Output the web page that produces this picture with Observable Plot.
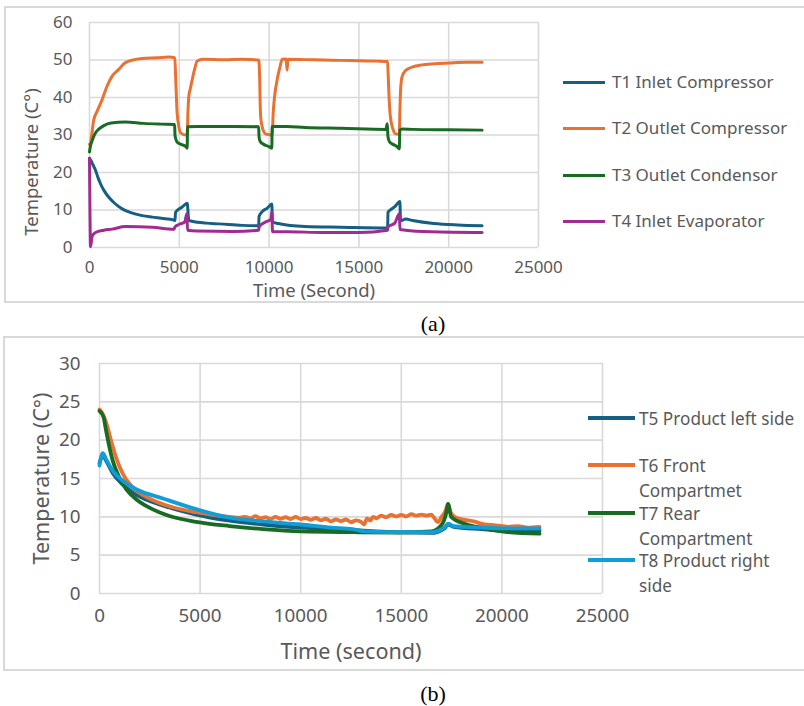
<!DOCTYPE html>
<html><head><meta charset="utf-8">
<script src="https://cdn.jsdelivr.net/npm/d3@7"></script>
<script src="https://cdn.jsdelivr.net/npm/@observablehq/plot@0.6"></script>
<style>
body{margin:0;background:#fff;}
#root{position:relative;width:804px;height:706px;overflow:hidden;font-family:"Noto Sans",sans-serif;color:#595959;}
.panel{position:absolute;border:2px solid #d9d9d9;border-right:none;box-sizing:border-box;}
.plotbox{position:absolute;left:0;}
.leg{position:absolute;white-space:nowrap;}
.leg .sw{position:absolute;}
.leg .tx{position:absolute;}
.cap{position:absolute;font-family:"Liberation Serif","Times New Roman",serif;font-size:22px;color:#000;transform:translate(-50%,-50%);}
</style></head><body><div id="root"></div>
<script>
// ---------------- Panel (a) data ----------------
const xTicks = [0, 5000, 10000, 15000, 20000, 25000];
const yTicksA = [0, 10, 20, 30, 40, 50, 60];
const yTicksB = [0, 5, 10, 15, 20, 25, 30];
const namesA = ["T1 Inlet Compressor", "T2 Outlet Compressor", "T3 Outlet Condensor", "T4 Inlet Evaporator"];
const colorsA = ["#156082", "#E97132", "#196B24", "#A02B93"];
const xTitleA = "Time (Second)";
const yTitleA = "Temperature (C°)";
const xTitleB = "Time (second)";
const yTitleB = "Temperature (C°)";

const t1Time = [0, 100, 200, 334, 470, 612, 820, 1075, 1400, 1820, 2300, 2934, 3500, 4000, 4695, 4760, 4790, 5160, 5440, 5530, 5700, 6500, 7250, 8500, 9420, 9440, 9600, 9900, 10150, 10190, 10500, 12000, 14000, 16600, 16620, 16800, 17000, 17280, 17320, 17600, 18000, 19170, 20500, 21860];
const t1Temp = [23.8, 23.0, 22.0, 20.6, 18.7, 17.0, 15.1, 13.4, 11.8, 10.3, 9.3, 8.5, 8.1, 7.8, 7.35, 7.2, 9.4, 10.8, 11.8, 7.2, 7.0, 6.5, 6.3, 5.9, 5.8, 8.3, 9.5, 10.5, 11.6, 6.8, 6.4, 5.6, 5.4, 5.2, 9.4, 10.2, 10.9, 12.3, 7.1, 7.6, 7.2, 6.4, 6.0, 5.8];

const t2Time = [0, 50, 235, 420, 700, 975, 1260, 1630, 2000, 2930, 3800, 4420, 4750, 4800, 4880, 4950, 5070, 5350, 5440, 5480, 5530, 5620, 5720, 5850, 5995, 6300, 7500, 8500, 9426, 9470, 9520, 9600, 9800, 10000, 10170, 10230, 10300, 10450, 10600, 10730, 10950, 11000, 11050, 12000, 13000, 14000, 15000, 16000, 16600, 16630, 16680, 16750, 16900, 17050, 17250, 17280, 17320, 17400, 17600, 17900, 18500, 19200, 20000, 21000, 21860];
const t2Temp = [27.5, 27.8, 34.0, 36.3, 39.4, 43.0, 45.7, 47.5, 49.3, 50.4, 50.6, 50.8, 50.6, 45.0, 35.8, 33.0, 30.6, 30.0, 30.1, 36.0, 40.3, 42.5, 44.8, 47.5, 49.7, 50.2, 50.1, 50.2, 50.0, 46.0, 35.8, 32.5, 30.3, 30.1, 30.0, 36.0, 40.0, 44.8, 48.0, 50.2, 50.3, 47.3, 50.2, 50.1, 50.0, 49.9, 49.8, 49.7, 49.6, 46.0, 40.0, 35.0, 31.5, 30.3, 30.2, 36.0, 42.0, 45.5, 47.2, 48.0, 48.7, 49.0, 49.2, 49.4, 49.4];

const t3Time = [0, 50, 150, 300, 500, 800, 1200, 2000, 3000, 4000, 4740, 4760, 4800, 4900, 5100, 5350, 5440, 5460, 6000, 8000, 9420, 9440, 9500, 9700, 9950, 10150, 10170, 11000, 12000, 14000, 16500, 16580, 16620, 16700, 16900, 17100, 17250, 17280, 17400, 18000, 20000, 21860];
const t3Temp = [25.5, 27.0, 28.5, 30.3, 31.5, 32.5, 33.2, 33.5, 33.1, 32.9, 32.8, 30.0, 29.0, 28.0, 27.5, 27.0, 26.5, 32.2, 32.3, 32.3, 32.2, 29.5, 28.3, 27.5, 27.0, 26.5, 32.3, 32.3, 32.0, 31.8, 31.5, 33.0, 29.5, 28.2, 27.5, 27.0, 26.3, 31.2, 31.6, 31.5, 31.4, 31.3];

const t4Time = [0, 60, 150, 334, 800, 1260, 2000, 3500, 4700, 4760, 5000, 5300, 5420, 5460, 6000, 8000, 9420, 9440, 9800, 10100, 10150, 10190, 11000, 13000, 15000, 16600, 16620, 17000, 17250, 17290, 17600, 19000, 21860];
const t4Temp = [23.8, 0.2, 3.0, 4.0, 4.6, 4.9, 5.6, 5.4, 4.9, 5.5, 6.2, 6.8, 9.0, 4.6, 4.4, 4.3, 4.6, 5.5, 6.8, 7.5, 9.5, 4.2, 4.2, 4.0, 4.0, 4.6, 5.5, 6.5, 9.0, 4.8, 4.6, 4.2, 4.0];

// ---------------- Panel (b) data ----------------
const namesB = ["T5 Product left side", "T6 Front Compartmet", "T7 Rear Compartment", "T8 Product right side"];
const legendLinesB = [["T5 Product left side"], ["T6 Front", "Compartmet"], ["T7 Rear", "Compartment"], ["T8 Product right", "side"]];
const colorsB = ["#156082", "#E97132", "#196B24", "#0F9ED5"];

const t5Time = [0, 165, 330, 660, 1160, 1820, 3150, 4800, 6460, 8115, 10000, 12580, 14500, 16490, 17150, 17320, 17600, 18970, 20130, 21870];
const t5Temp = [17.0, 18.0, 17.3, 15.7, 14.2, 12.9, 11.5, 10.3, 9.5, 9.0, 8.6, 8.3, 8.0, 7.9, 8.5, 9.0, 8.7, 8.4, 8.2, 8.2];

const t6Time = [0, 150, 330, 580, 830, 1160, 1656, 2320, 3150, 4800, 6460, 7000, 7250, 7500, 7750, 8000, 8250, 8500, 8750, 9000, 9250, 9500, 9750, 10000, 10250, 10500, 10750, 11000, 11250, 11500, 11750, 12000, 12250, 12500, 12750, 13000, 13150, 13300, 13450, 13600, 13750, 14000, 14250, 14500, 14750, 15000, 15250, 15500, 15750, 16000, 16250, 16490, 16650, 16820, 17000, 17200, 17320, 17450, 17650, 18150, 18600, 19140, 19700, 20300, 20800, 21300, 21870];
const t6Temp = [24.0, 23.5, 22.3, 19.9, 17.7, 15.6, 13.8, 12.6, 11.65, 10.6, 10.0, 9.9, 10.0, 9.8, 10.1, 9.8, 9.95, 9.7, 10.0, 9.75, 9.95, 9.7, 10.0, 9.7, 9.85, 9.6, 9.85, 9.55, 9.75, 9.4, 9.65, 9.45, 9.65, 9.3, 9.55, 9.35, 9.0, 9.8, 9.5, 10.0, 9.8, 10.15, 9.95, 10.25, 10.05, 10.25, 10.05, 10.35, 10.15, 10.3, 10.15, 10.3, 9.8, 9.3, 10.0, 10.8, 11.7, 10.6, 10.0, 9.6, 9.4, 9.0, 8.9, 8.7, 8.8, 8.6, 8.7];

const t7Time = [0, 200, 330, 500, 660, 990, 1325, 1820, 2480, 3480, 4800, 6460, 8115, 10000, 12580, 14830, 16490, 16990, 17240, 17320, 17480, 18150, 19140, 20300, 21870];
const t7Temp = [23.8, 23.0, 21.2, 19.0, 17.3, 15.1, 13.6, 12.3, 11.2, 10.1, 9.35, 8.8, 8.4, 8.1, 8.0, 7.95, 8.1, 8.9, 10.6, 11.7, 10.0, 9.1, 8.5, 8.0, 7.8];

const t8Time = [0, 165, 330, 660, 1160, 1820, 3150, 4800, 6460, 8115, 10000, 11520, 12580, 13180, 14500, 16490, 17150, 17320, 17600, 18970, 20130, 21870];
const t8Temp = [16.7, 18.3, 17.5, 16.0, 14.7, 13.6, 12.4, 11.0, 9.9, 9.4, 9.0, 8.6, 8.4, 8.1, 8.0, 8.0, 8.6, 9.1, 8.8, 8.6, 8.5, 8.5];

// ---------------- build ----------------
const FONT = '"Noto Sans", sans-serif';
const GRID = "#d9d9d9";
const TEXT = "#595959";
const rows = (times, temps, name) => times.map((t, i) => ({t, v: temps[i], name}));
const seriesA = [rows(t1Time, t1Temp, namesA[0]), rows(t2Time, t2Temp, namesA[1]), rows(t3Time, t3Temp, namesA[2]), rows(t4Time, t4Temp, namesA[3])];
const seriesB = [rows(t5Time, t5Temp, namesB[0]), rows(t6Time, t6Temp, namesB[1]), rows(t7Time, t7Temp, namesB[2]), rows(t8Time, t8Temp, namesB[3])];
const fmt = d3.format("d");
const root = document.getElementById("root");

function makePanel(opts) {
  const {width, height, ml, mr, mt, mb, yDomain, yTicks, series, colors, fs, tfs, xTitle, yTitle, xdy, ydx, ydy, padX, padY, sw} = opts;
  return Plot.plot({
    width, height, marginLeft: ml, marginRight: mr, marginTop: mt, marginBottom: mb,
    style: {fontFamily: FONT, fontSize: fs + "px", color: TEXT, background: "none", overflow: "visible"},
    x: {domain: [0, 25000]},
    y: {domain: yDomain},
    marks: [
      Plot.gridX(xTicks, {stroke: GRID, strokeOpacity: 1, strokeWidth: 1.6}),
      Plot.gridY(yTicks, {stroke: GRID, strokeOpacity: 1, strokeWidth: 1.6}),
      Plot.axisX(xTicks, {tickSize: 0, tickPadding: padX, label: null, tickFormat: fmt, fill: TEXT}),
      Plot.axisY(yTicks, {tickSize: 0, tickPadding: padY, label: null, tickFormat: fmt, fill: TEXT}),
      Plot.text([xTitle], {text: d => d, frameAnchor: "bottom", textAnchor: "middle", lineAnchor: "middle", dy: xdy, fontSize: tfs, fill: TEXT}),
      Plot.text([yTitle], {text: d => d, frameAnchor: "left", textAnchor: "middle", lineAnchor: "middle", dx: ydx, dy: ydy, rotate: -90, fontSize: tfs, fill: TEXT}),
      ...series.map((s, i) => Plot.line(s, {x: "t", y: "v", stroke: colors[i], strokeWidth: sw, curve: "monotone-x", strokeLinejoin: "round", strokeLinecap: "round"}))
    ]
  });
}

function addBorder(left, top, h) {
  const d = document.createElement("div");
  d.className = "panel";
  Object.assign(d.style, {left: left + "px", top: top + "px", width: "900px", height: h + "px"});
  root.appendChild(d);
}

// Panel (a)
addBorder(4, 6, 297);
const plotA = makePanel({width: 804, height: 302, ml: 89, mr: 266, mt: 22, mb: 55, yDomain: [0, 60], yTicks: yTicksA,
  series: seriesA, colors: colorsA, fs: 17, tfs: 18.5, xTitle: xTitleA, yTitle: yTitleA, xdy: 44, ydx: -57, ydy: 27, padX: 13, padY: 17, sw: 3});
const boxA = document.createElement("div"); boxA.className = "plotbox"; boxA.style.top = "0px"; boxA.appendChild(plotA); root.appendChild(boxA);

// Panel (b)
addBorder(3, 336, 335);
const plotB = makePanel({width: 804, height: 335, ml: 99, mr: 202, mt: 27, mb: 78, yDomain: [0, 30], yTicks: yTicksB,
  series: seriesB, colors: colorsB, fs: 18.8, tfs: 21.6, xTitle: xTitleB, yTitle: yTitleB, xdy: 59, ydx: -57, ydy: 0, padX: 15.4, padY: 19, sw: 3.8});
const boxB = document.createElement("div"); boxB.className = "plotbox"; boxB.style.top = "336px"; boxB.appendChild(plotB); root.appendChild(boxB);

// Legends
function legend(items, colors, x0, lineW, textX, ys, fs, lh, thick) {
  items.forEach((lines, i) => {
    const g = document.createElement("div"); g.className = "leg";
    const sw = document.createElement("div"); sw.className = "sw";
    Object.assign(sw.style, {left: x0 + "px", top: (ys[i] - thick / 2) + "px", width: lineW + "px", height: thick + "px", background: colors[i]});
    const tx = document.createElement("div"); tx.className = "tx";
    Object.assign(tx.style, {left: textX + "px", top: (ys[i] - lh / 2) + "px", fontSize: fs + "px", lineHeight: lh + "px", color: TEXT});
    tx.innerHTML = lines.map(s => s.replace(/&/g, "&amp;")).join("<br>");
    g.appendChild(sw); g.appendChild(tx); root.appendChild(g);
  });
}
legend(namesA.map(n => [n]), colorsA, 563, 42, 612, [82, 128, 175, 221], 17, 22, 3);
legend(legendLinesB, colorsB, 588, 47, 639, [418, 465, 513, 560], 17.2, 25, 3.6);

// Captions
const capA = document.createElement("div"); capA.className = "cap"; capA.textContent = "(a)"; capA.style.left = "433px"; capA.style.top = "324px"; root.appendChild(capA);
const capB = document.createElement("div"); capB.className = "cap"; capB.textContent = "(b)"; capB.style.left = "433px"; capB.style.top = "694px"; root.appendChild(capB);
</script></body></html>
